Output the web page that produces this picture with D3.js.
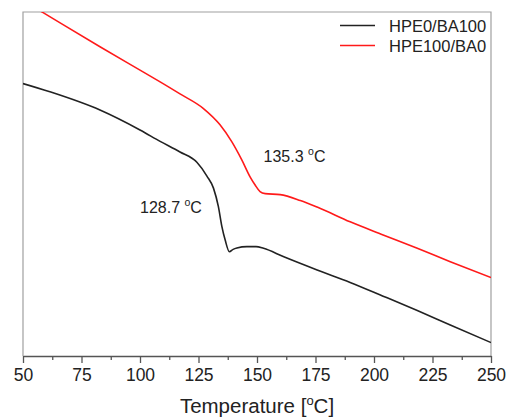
<!DOCTYPE html>
<html>
<head>
<meta charset="utf-8">
<script src="https://cdn.jsdelivr.net/npm/d3@7"></script>
<style>
  body { margin: 0; background: #fff; }
  svg { font-family: "Liberation Sans", Arial, sans-serif; }
</style>
</head>
<body>
<div id="chart"></div>
<script>
// temperature (°C) and heat flow (arbitrary units)
var blackTemp = [50, 61.5, 82.9, 100, 108.6, 117.1, 124.3, 128.6, 131.4, 133.5, 135, 136.4, 138.2,
        139.8, 141.4, 145.7, 149.6, 152.8, 161.2, 175.7, 189.8, 203.9, 218.5, 232.6, 250];
var blackFlow = [79.2, 76.8, 71.5, 65.7, 62.4, 59.3, 56.3, 52.3, 48.8, 43.4, 37.6, 33.7, 30.3,
        31.0, 31.4, 31.8, 31.8, 31.3, 28.9, 25.0, 21.4, 17.4, 13.2, 9.0, 3.9];

var redTemp = [50, 58.6, 82.9, 101.3, 108.6, 117.1, 127, 134.2, 139.2, 143.5, 147.1, 149.2, 151.3,
        153.5, 159.9, 168.5, 175.7, 189.8, 203.9, 218.5, 232.6, 250];
var redFlow = [103.3, 99.8, 89.9, 82.6, 79.7, 76.2, 72.0, 67.2, 62.3, 57.0, 52.0, 49.7, 47.8,
        47.2, 46.9, 45.2, 43.3, 39.0, 35.2, 31.3, 27.4, 22.8];

var seriesNames = ["HPE0/BA100", "HPE100/BA0"];
var seriesColors = ["#222222", "#ff1a1a"];

var majorTicks = [50, 75, 100, 125, 150, 175, 200, 225, 250];
var minorTicks = [62.5, 87.5, 112.5, 137.5, 162.5, 187.5, 212.5, 237.5];

// glass transition labels, anchored at (temperature, flow)
var noteText = ["128.7 ", "135.3 "];
var noteTemp = [100, 152.8];
var noteFlow = [41.6, 56.5];

var margin = { top: 12, right: 16, bottom: 62, left: 23 },
        width = 507 - margin.left - margin.right,
        height = 418 - margin.top - margin.bottom;

var x = d3.scaleLinear().domain([50, 250]).range([0, width]);
var y = d3.scaleLinear().domain([0, 100]).range([height, 0]);

var svg = d3.select("#chart").append("svg")
        .attr("width", width + margin.left + margin.right)
        .attr("height", height + margin.top + margin.bottom)
        .append("g")
        .attr("transform", "translate(" + margin.left + "," + margin.top + ")");

svg.append("clipPath")
        .attr("id", "plotclip")
        .append("rect")
        .attr("width", width)
        .attr("height", height);

// frame (left, top, right)
svg.append("path")
        .attr("d", "M0," + height + "V0H" + width + "V" + height)
        .attr("fill", "none")
        .attr("stroke", "#a0a0a0")
        .attr("stroke-width", 1.2);

var xAxis = d3.axisBottom(x)
        .tickValues(majorTicks)
        .tickSize(7)
        .tickSizeOuter(0)
        .tickPadding(6)
        .tickFormat(d3.format("d"));

var gx = svg.append("g")
        .attr("transform", "translate(0," + height + ")")
        .call(xAxis);

gx.select(".domain").attr("stroke", "#555").attr("stroke-width", 1.3);
gx.selectAll(".tick line").attr("stroke", "#555").attr("stroke-width", 1.3);
gx.selectAll(".tick text")
        .attr("fill", "#222")
        .style("font-size", "17.5px");

var gminor = svg.append("g")
        .attr("transform", "translate(0," + height + ")")
        .call(d3.axisBottom(x).tickValues(minorTicks).tickSize(4).tickSizeOuter(0).tickFormat(""));
gminor.select(".domain").remove();
gminor.selectAll(".tick line").attr("stroke", "#555").attr("stroke-width", 1.3);

var title = svg.append("text")
        .attr("x", width / 2)
        .attr("y", height + 57)
        .attr("text-anchor", "middle")
        .attr("fill", "#222")
        .style("font-size", "20.5px")
        .text("Temperature [");
title.append("tspan").attr("dy", -8).style("font-size", "13px").text("o");
title.append("tspan").attr("dy", 8).text("C]");

var line = d3.line()
        .x(function (d) { return x(d[0]); })
        .y(function (d) { return y(d[1]); })
        .curve(d3.curveMonotoneX);

var series = [d3.zip(blackTemp, blackFlow), d3.zip(redTemp, redFlow)];

svg.append("g")
        .attr("clip-path", "url(#plotclip)")
        .selectAll("path")
        .data(series)
        .enter().append("path")
        .attr("d", line)
        .attr("fill", "none")
        .attr("stroke", function (d, i) { return seriesColors[i]; })
        .attr("stroke-width", 1.6)
        .attr("stroke-linejoin", "round");

// annotations
noteText.forEach(function (t, i) {
        var txt = svg.append("text")
                .attr("x", x(noteTemp[i]))
                .attr("y", y(noteFlow[i]))
                .attr("fill", "#222")
                .style("font-size", "16px")
                .text(t);
        txt.append("tspan").attr("dy", -7).style("font-size", "10.5px").text("o");
        txt.append("tspan").attr("dy", 7).text("C");
});

// legend
var legend = svg.selectAll(".legend")
        .data(seriesNames)
        .enter().append("g")
        .attr("class", "legend")
        .attr("transform", function (d, i) { return "translate(0," + (13.5 + i * 20) + ")"; });

legend.append("line")
        .attr("x1", 317)
        .attr("x2", 352)
        .attr("stroke", function (d, i) { return seriesColors[i]; })
        .attr("stroke-width", 1.6);

legend.append("text")
        .attr("x", 366)
        .attr("y", 6)
        .attr("fill", "#222")
        .style("font-size", "16.5px")
        .text(function (d) { return d; });
</script>
</body>
</html>
